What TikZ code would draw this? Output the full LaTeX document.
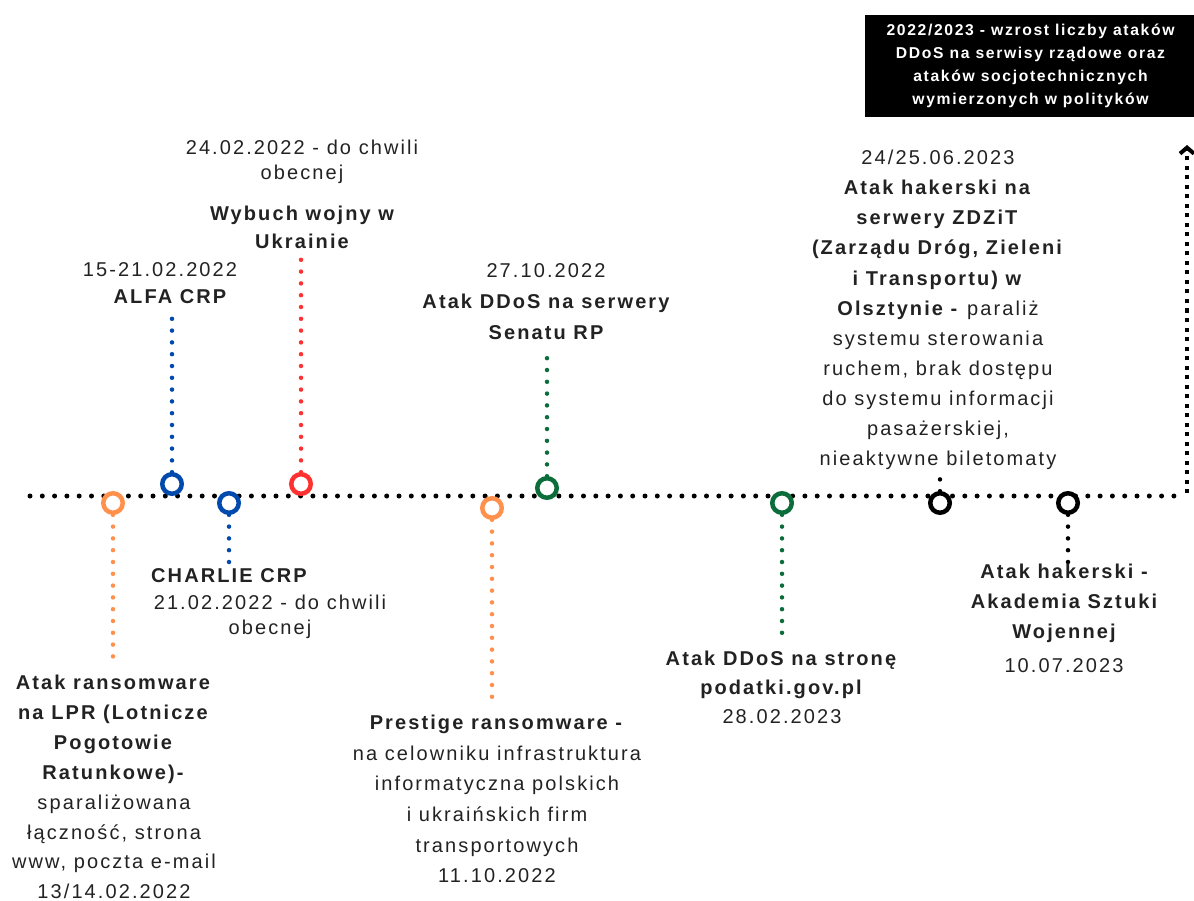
\documentclass[tikz,border=0pt]{standalone}
\usepackage{fontspec}
\setmainfont{Liberation Sans}[LetterSpace=10.5]
\usetikzlibrary{arrows.meta}

\definecolor{evorange}{HTML}{FF914D}
\definecolor{evblue}{HTML}{004AAD}
\definecolor{evred}{HTML}{FF3131}
\definecolor{evgreen}{HTML}{0B6E3A}
\definecolor{txtgray}{HTML}{222222}

\begin{document}
\begin{tikzpicture}[x=1pt, y=-1pt,
    timeline/.style = {line width=5pt, line cap=round, dash pattern=on 0pt off 12.3pt},
    upline/.style = {line width=4.5pt, dash pattern=on 4pt off 5.5pt},
    stem/.style = {line width=4.5pt, line cap=round, dash pattern=on 0pt off 11.8pt},
    event/.style = {circle, draw, line width=4.5pt, fill=white, minimum size=19.5pt, inner sep=0pt},
    lbl/.style = {align=center, text=txtgray, inner sep=0pt, font=\fontsize{20}{#1}\selectfont},
    lbl/.default = 30,
    lblb/.style = {lbl=#1, font=\bfseries\fontsize{20}{#1}\selectfont},
    lblb/.default = 30,
    infobox/.style = {fill=black, text=white, align=center, inner sep=0pt,
        minimum width=331pt, minimum height=102pt,
        font=\bfseries\fontsize{15.7}{23}\selectfont}]

    \useasboundingbox (0,0) rectangle (1194,901);

    % time axis
    \coordinate (axis start) at (30,496);
    \coordinate (axis corner) at (1185,496);
    \coordinate (axis end) at (1187,145);
    \draw[timeline] (axis start) -- (axis corner);
    \draw[upline, -{Straight Barb[length=6pt, width=14pt, line width=4pt]}] (1187,493) -- (axis end);

    % stem ends
    \coordinate (lpr end) at (113,668);
    \coordinate (alfa end) at (172,318);
    \coordinate (charlie end) at (229,562);
    \coordinate (wojna end) at (301,258);
    \coordinate (prestige end) at (492,705);
    \coordinate (senat end) at (547,358);
    \coordinate (podatki end) at (782,633);
    \coordinate (zdzit end) at (940,476);
    \coordinate (akademia end) at (1068,562);

    % stems
    \draw[stem, evorange] (113,503) -- (lpr end);
    \draw[stem, evblue] (172,484) -- (alfa end);
    \draw[stem, evblue] (229,503) -- (charlie end);
    \draw[stem, evred] (301,484) -- (wojna end);
    \draw[stem, evorange] (492,508) -- (prestige end);
    \draw[stem, evgreen] (547,488) -- (senat end);
    \draw[stem, evgreen] (782,503) -- (podatki end);
    \draw[stem, black] (940,503) -- (zdzit end);
    \draw[stem, black] (1068,503) -- (akademia end);

    % events
    \node[event, draw=evorange] (lpr) at (113,503) {};
    \node[event, draw=evblue] (alfa) at (172,484) {};
    \node[event, draw=evblue] (charlie) at (229,503) {};
    \node[event, draw=evred] (wojna) at (301,484) {};
    \node[event, draw=evorange] (prestige) at (492,508) {};
    \node[event, draw=evgreen] (senat) at (547,488) {};
    \node[event, draw=evgreen] (podatki) at (782,503) {};
    \node[event, draw=black] (zdzit) at (940,503) {};
    \node[event, draw=black] (akademia) at (1068,503) {};

    % labels above
    \node[lbl=25] (wojna date) at (302,162) {24.02.2022 - do chwili\\obecnej};
    \node[lblb=28] (wojna title) at (302,227) {Wybuch wojny w\\Ukrainie};
    \node[lbl] (alfa date) at (160,270) {15-21.02.2022};
    \node[lblb] (alfa title) at (170,297) {ALFA CRP};
    \node[lbl] (senat date) at (546,271) {27.10.2022};
    \node[lblb=31] (senat title) at (546,317) {Atak DDoS na serwery\\Senatu RP};
    \node[lbl=30.1] (zdzit text) at (938,310) {24/25.06.2023\\\textbf{Atak hakerski na}\\\textbf{serwery ZDZiT}\\\textbf{(Zarządu Dróg, Zieleni}\\\textbf{i Transportu) w}\\\textbf{Olsztynie -} paraliż\\systemu sterowania\\ruchem, brak dostępu\\do systemu informacji\\pasażerskiej,\\nieaktywne biletomaty};

    % labels below
    \node[lblb] (charlie title) at (229,576) {CHARLIE CRP};
    \node[lbl=25] (charlie date) at (270,617) {21.02.2022 - do chwili\\obecnej};
    \node[lbl=29.9] (lpr text) at (114,787) {\textbf{Atak ransomware}\\\textbf{na LPR (Lotnicze}\\\textbf{Pogotowie}\\\textbf{Ratunkowe)-}\\sparaliżowana\\łączność, strona\\www, poczta e-mail\\13/14.02.2022};
    \node[lbl=30.6] (prestige text) at (497,799) {\textbf{Prestige ransomware -}\\na celowniku infrastruktura\\informatyczna polskich\\i ukraińskich firm\\transportowych\\11.10.2022};
    \node[lbl=29] (podatki text) at (782,687) {\textbf{Atak DDoS na stronę}\\\textbf{podatki.gov.pl}\\28.02.2023};
    \node[lblb] (akademia title) at (1064,603) {Atak hakerski -\\Akademia Sztuki\\Wojennej};
    \node[lbl] (akademia date) at (1064,666) {10.07.2023};

    % trend box
    \node[infobox] (trend) at (1030.5,66) {2022/2023 - wzrost liczby ataków\\DDoS na serwisy rządowe oraz\\ataków socjotechnicznych\\wymierzonych w polityków};

\end{tikzpicture}
\end{document}
